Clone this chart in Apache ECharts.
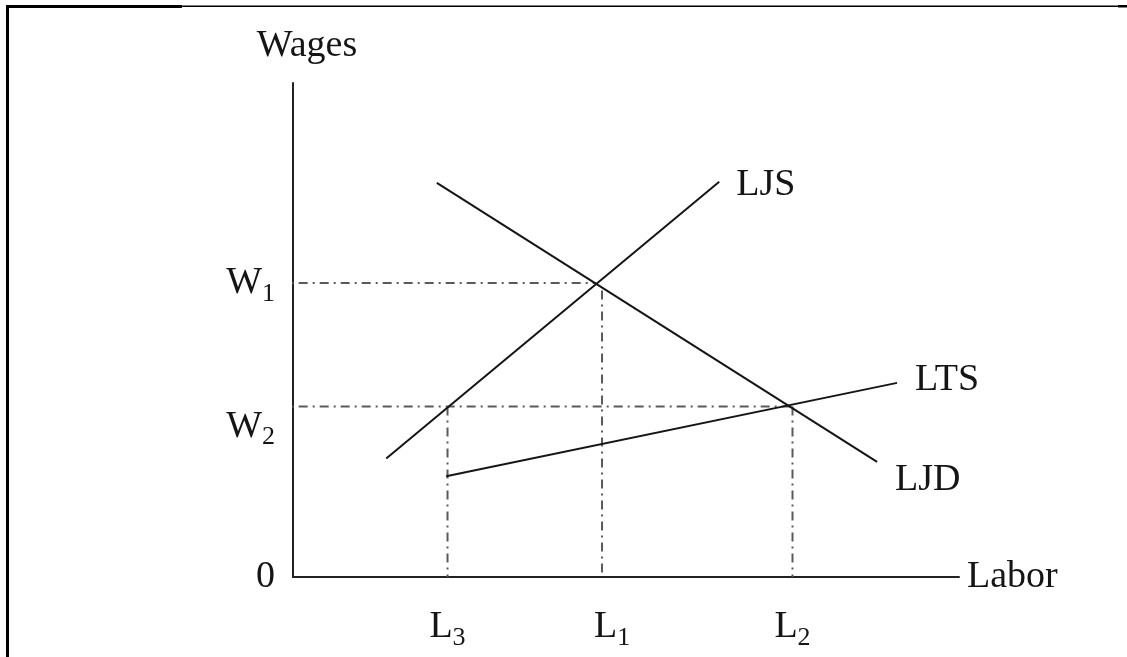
<!DOCTYPE html>
<html>
<head>
<meta charset="utf-8">
<script src="https://cdn.jsdelivr.net/npm/echarts@6/dist/echarts.min.js"></script>
<style>
  html, body { margin: 0; padding: 0; background: #fff; }
  #chart { width: 1127px; height: 657px; }
</style>
</head>
<body>
<div id="chart"></div>
<script>
// Labor market: job supply/demand (LJS, LJD) and total supply (LTS)
const ljsLine = [[14, 24], [64, 80]];
const ljdLine = [[21.6, 79.8], [87.7, 23.3]];
const ltsLine = [[23, 20.4], [90.7, 39.3]];

// wage levels on the vertical axis
const wageNames = ['0', 'W2', 'W1'];
const wageValues = [0, 34.5, 59.5];

// labor quantities on the horizontal axis
const laborNames = ['L3', 'L1', 'L2'];
const laborValues = [23.2, 46.4, 75];

// where each horizontal wage guide meets its curves
const w1GuideEnd = 45.5;
const w2GuideEnd = 74.9;
const guideStart = -2.3;

const FONT = '"Liberation Serif", "Times New Roman", serif';
const INK = '#151515';
const GUIDE = '#5a5a5a';

const richBase = {
  b: { fontFamily: FONT, fontSize: 38, color: INK, lineHeight: 40 },
  s: { fontFamily: FONT, fontSize: 26, color: INK, lineHeight: 26, verticalAlign: 'bottom', padding: [0, 0, -4, 0] },
  // blank spacer line, pushes a label below its tick
  e: { fontFamily: FONT, fontSize: 38, lineHeight: 40 },
  // base letter nudged right of its tick
  r: { fontFamily: FONT, fontSize: 38, color: INK, lineHeight: 40, padding: [0, 0, 0, 20] }
};

function subLabel(name, baseKey) {
  if (name.length < 2) return '{b|' + name + '}';
  return '{' + baseKey + '|' + name[0] + '}{s|' + name.slice(1) + '}';
}

const guideStyle = { color: GUIDE, width: 2, type: [9, 5, 2, 5] };
const curveStyle = { color: INK, width: 2 };

function guide(points) {
  return {
    type: 'line', data: points, symbol: 'none', clip: false, silent: true,
    lineStyle: guideStyle, z: 1
  };
}

function curve(points, name, offset) {
  return {
    type: 'line', name: name, data: points, symbol: 'none', silent: true,
    lineStyle: curveStyle, z: 3,
    endLabel: {
      show: true, formatter: name, fontFamily: FONT, fontSize: 38, color: INK,
      distance: 0, offset: offset, align: 'left', verticalAlign: 'middle'
    }
  };
}

const chart = echarts.init(document.getElementById('chart'), null, { renderer: 'canvas' });

chart.setOption({
  animation: false,
  backgroundColor: '#ffffff',
  grid: { left: 293, top: 83, width: 666, height: 494, containLabel: false },
  xAxis: {
    type: 'value', min: 0, max: 100,
    name: 'Labor', nameLocation: 'end', nameGap: 8,
    nameTextStyle: { fontFamily: FONT, fontSize: 38, color: INK, verticalAlign: 'middle' },
    axisLine: { show: true, onZero: false, lineStyle: { color: '#222', width: 2 } },
    axisTick: { show: false },
    splitLine: { show: false },
    axisLabel: {
      customValues: laborValues, margin: 30,
      formatter: v => {
        const n = laborNames[laborValues.indexOf(v)];
        return subLabel(n, n === 'L1' ? 'r' : 'b');
      },
      rich: richBase
    }
  },
  yAxis: {
    type: 'value', min: 0, max: 100,
    name: 'Wages', nameLocation: 'end', nameGap: 18,
    nameTextStyle: { fontFamily: FONT, fontSize: 38, color: INK, padding: [0, 0, 0, 28] },
    axisLine: { show: true, onZero: false, lineStyle: { color: '#222', width: 2 } },
    axisTick: { show: false },
    splitLine: { show: false },
    axisLabel: {
      customValues: wageValues, margin: 18,
      formatter: v => {
        const n = wageNames[wageValues.indexOf(v)];
        const text = subLabel(n, 'b');
        return n === 'W2' ? '{e| }\n' + text : text;
      },
      rich: richBase
    }
  },
  series: [
    guide([[guideStart, wageValues[2]], [w1GuideEnd, wageValues[2]]]),
    guide([[guideStart, wageValues[1]], [w2GuideEnd, wageValues[1]]]),
    guide([[laborValues[0], wageValues[1]], [laborValues[0], 0]]),
    guide([[laborValues[1], wageValues[2] - 1.5], [laborValues[1], 0]]),
    guide([[laborValues[2], wageValues[1]], [laborValues[2], 0]]),
    curve(ljsLine, 'LJS', [17, 3]),
    curve(ljdLine, 'LJD', [18, 18]),
    curve(ltsLine, 'LTS', [18, -3])
  ],
  graphic: [
    { type: 'rect', shape: { x: 6, y: 5, width: 3, height: 652 }, style: { fill: '#000' }, silent: true },
    { type: 'rect', shape: { x: 6, y: 5, width: 176, height: 3 }, style: { fill: '#000' }, silent: true },
    { type: 'rect', shape: { x: 182, y: 5.5, width: 936, height: 1.5 }, style: { fill: '#000' }, silent: true },
    { type: 'rect', shape: { x: 1118, y: 5, width: 9, height: 2.5 }, style: { fill: '#000' }, silent: true }
  ]
});
</script>
</body>
</html>
